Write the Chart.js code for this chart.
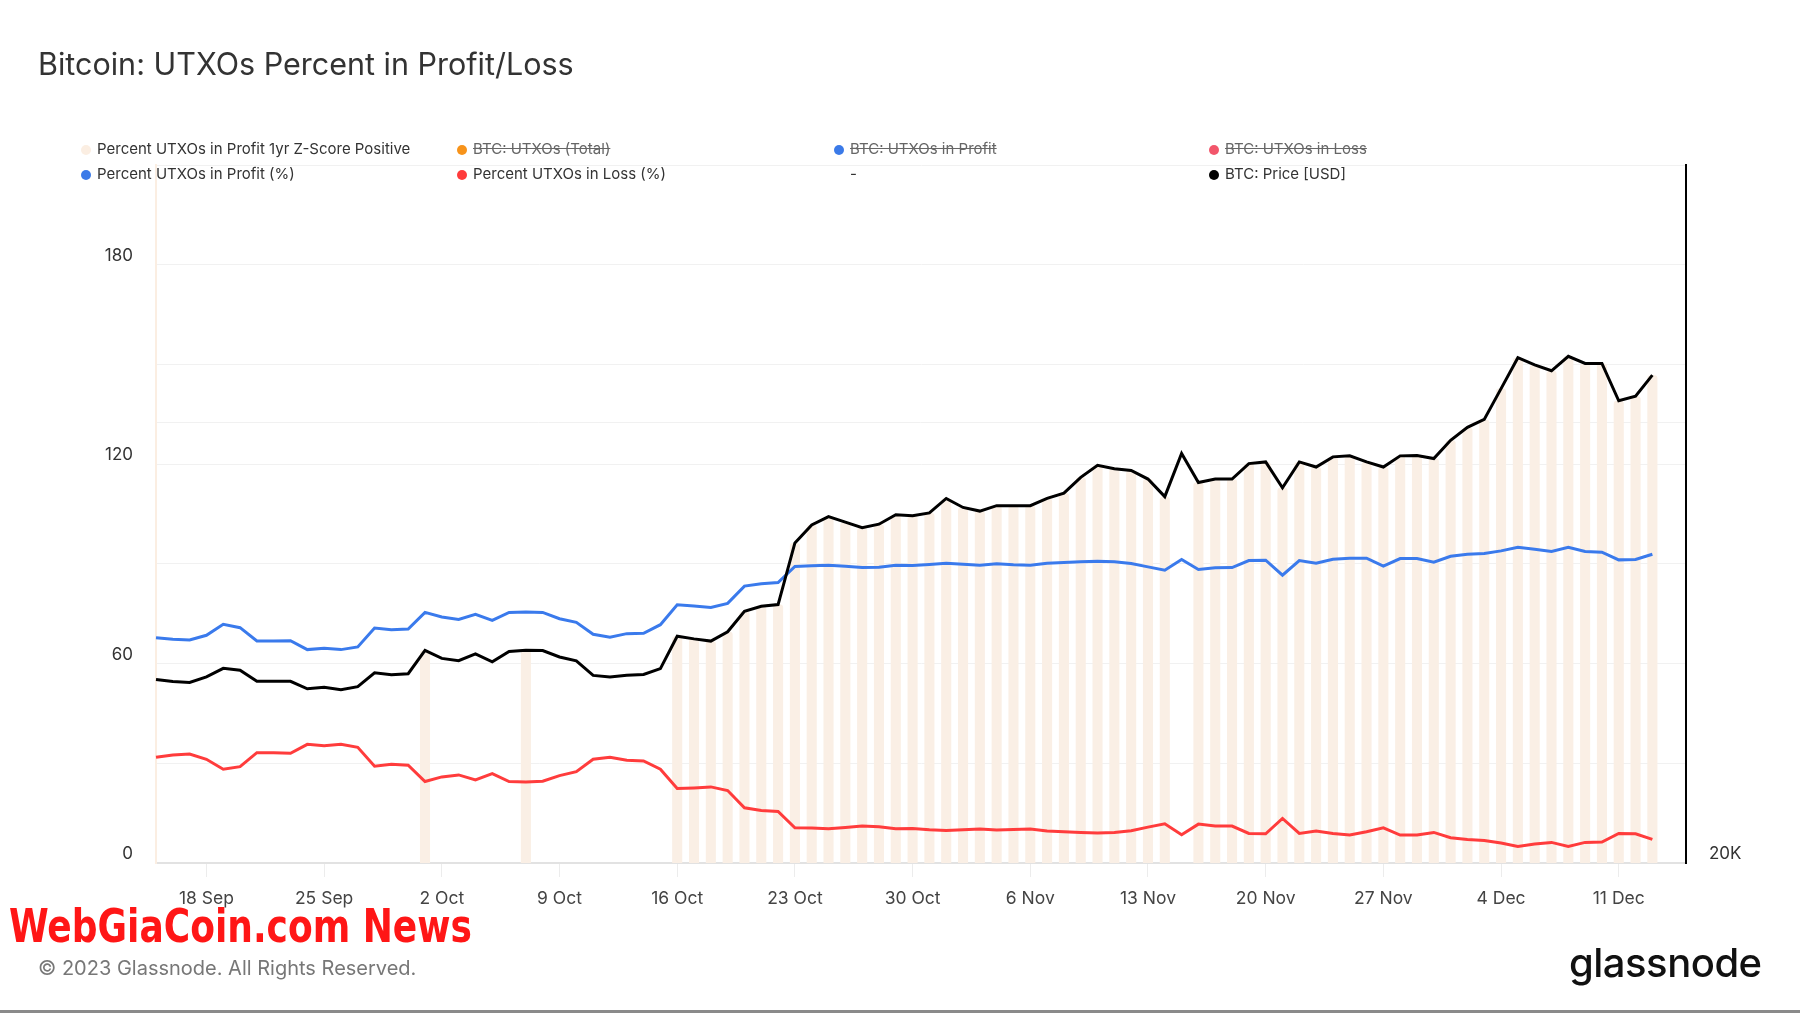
<!DOCTYPE html>
<html>
<head>
<meta charset="utf-8">
<script src="https://cdn.jsdelivr.net/npm/chart.js@4.4.0/dist/chart.umd.min.js"></script>
<style>
  body { margin: 0; background: #fff; font-family: Inter, "Noto Sans", sans-serif; }
  #page { position: relative; width: 1800px; height: 1013px; overflow: hidden; background: #fff; }
  #wrap { position: absolute; left: 0; top: 0; width: 1800px; height: 1013px; }
  #title { position: absolute; left: 38px; top: 45px; font-size: 30.5px; line-height: 38px; color: #333; }
  .leg { position: absolute; font-size: 15px; line-height: 18px; color: #333; white-space: nowrap; }
  .leg .dot { display: inline-block; width: 10px; height: 10px; border-radius: 50%; margin-right: 6px; vertical-align: -1px; }
  .leg.off { color: #666; text-decoration: line-through; }
  #copy { position: absolute; left: 38px; top: 955px; font-size: 20px; line-height: 26px; color: #777; }
  #mark { position: absolute; left: 9px; top: 900px; font-family: "DejaVu Sans Condensed", "DejaVu Sans"; font-weight: bold;
          font-size: 46px; line-height: 52px; color: #ff1616; transform-origin: 0 0; white-space: nowrap; }
  #logo { position: absolute; left: 1569px; top: 938px; font-size: 40px; line-height: 50px; font-weight: 500; color: #111; letter-spacing: -0.5px; }
  #rule { position: absolute; left: 0; bottom: 0; width: 1800px; height: 3px; background: #8a8a8a; }
</style>
</head>
<body>
<div id="page">
  <div id="wrap"><canvas id="chart"></canvas></div>
  <div id="title">Bitcoin: UTXOs Percent in Profit/Loss</div>
  <div id="legend"></div>
  <div id="mark">WebGiaCoin.com News</div>
  <div id="copy">© 2023 Glassnode. All Rights Reserved.</div>
  <div id="logo">glassnode</div>
  <div id="rule"></div>
</div>
<script>
// daily points 15 Sep .. 13 Dec, two empty days at the end
const dates = [
  '15 Sep','16 Sep','17 Sep','18 Sep','19 Sep','20 Sep','21 Sep','22 Sep','23 Sep','24 Sep','25 Sep','26 Sep','27 Sep','28 Sep','29 Sep','30 Sep',
  '1 Oct','2 Oct','3 Oct','4 Oct','5 Oct','6 Oct','7 Oct','8 Oct','9 Oct','10 Oct','11 Oct','12 Oct','13 Oct','14 Oct','15 Oct','16 Oct',
  '17 Oct','18 Oct','19 Oct','20 Oct','21 Oct','22 Oct','23 Oct','24 Oct','25 Oct','26 Oct','27 Oct','28 Oct','29 Oct','30 Oct','31 Oct',
  '1 Nov','2 Nov','3 Nov','4 Nov','5 Nov','6 Nov','7 Nov','8 Nov','9 Nov','10 Nov','11 Nov','12 Nov','13 Nov','14 Nov','15 Nov',
  '16 Nov','17 Nov','18 Nov','19 Nov','20 Nov','21 Nov','22 Nov','23 Nov','24 Nov','25 Nov','26 Nov','27 Nov','28 Nov','29 Nov','30 Nov',
  '1 Dec','2 Dec','3 Dec','4 Dec','5 Dec','6 Dec','7 Dec','8 Dec','9 Dec','10 Dec','11 Dec','12 Dec','13 Dec','14 Dec','15 Dec'
];
const tickLabels = ['18 Sep','25 Sep','2 Oct','9 Oct','16 Oct','23 Oct','30 Oct','6 Nov','13 Nov','20 Nov','27 Nov','4 Dec','11 Dec'];

const profitPct = [
  67.8, 67.3, 67.1, 68.5, 71.8, 70.8, 66.8, 66.8, 66.9, 64.2,
  64.6, 64.2, 65.0, 70.7, 70.2, 70.4, 75.4, 74.0, 73.3, 74.8,
  73.0, 75.4, 75.5, 75.4, 73.5, 72.4, 68.8, 67.9, 69.0, 69.1,
  71.7, 77.7, 77.3, 76.9, 78.1, 83.3, 84.0, 84.4, 89.2, 89.4,
  89.6, 89.3, 88.9, 89.0, 89.6, 89.5, 89.8, 90.2, 89.9, 89.6,
  90.0, 89.7, 89.6, 90.2, 90.4, 90.6, 90.8, 90.6, 90.1, 89.1,
  88.1, 91.3, 88.3, 88.8, 88.9, 91.0, 91.1, 86.6, 91.0, 90.2,
  91.4, 91.7, 91.7, 89.3, 91.6, 91.6, 90.5, 92.3, 92.9, 93.1,
  93.9, 95.0, 94.4, 93.7, 95.0, 93.7, 93.5, 91.2, 91.3, 92.9
];
const lossPct = [
  31.8, 32.5, 32.8, 31.2, 28.2, 29.0, 33.2, 33.2, 33.0, 35.7,
  35.3, 35.7, 34.8, 29.1, 29.7, 29.4, 24.5, 25.9, 26.5, 25.0,
  26.9, 24.5, 24.4, 24.6, 26.3, 27.5, 31.2, 31.8, 30.9, 30.7,
  28.2, 22.4, 22.6, 22.9, 21.8, 16.6, 15.8, 15.5, 10.6, 10.5,
  10.3, 10.7, 11.1, 10.9, 10.3, 10.4, 10.0, 9.8, 10.0, 10.2,
  9.9, 10.1, 10.2, 9.6, 9.4, 9.2, 9.0, 9.2, 9.7, 10.8,
  11.8, 8.5, 11.7, 11.1, 11.1, 8.9, 8.8, 13.4, 8.9, 9.6,
  8.9, 8.4, 9.4, 10.6, 8.4, 8.4, 9.2, 7.6, 7.1, 6.8,
  6.0, 5.0, 5.7, 6.2, 5.0, 6.2, 6.3, 8.9, 8.8, 7.1
];
const price = [
  26700, 26610, 26570, 26810, 27170, 27090, 26620, 26620, 26620, 26310,
  26370, 26270, 26400, 26980, 26900, 26940, 27950, 27600, 27500, 27800,
  27450, 27900, 27950, 27940, 27660, 27490, 26870, 26800, 26880, 26910,
  27160, 28580, 28460, 28360, 28780, 29720, 29960, 30040, 33100, 34050,
  34500, 34200, 33900, 34090, 34600, 34550, 34700, 35500, 35000, 34800,
  35100, 35100, 35100, 35500, 35800, 36700, 37400, 37200, 37100, 36600,
  35600, 38100, 36400, 36600, 36600, 37500, 37600, 36100, 37600, 37300,
  37900, 37960, 37600, 37300, 37960, 37980, 37800, 38900, 39700, 40200,
  42200, 44300, 43800, 43400, 44400, 43900, 43900, 41400, 41700, 43100
];
// 1 = profit 1yr z-score positive that day
const zPositive = [
  0,0,0,0,0,0,0,0,0,0, 0,0,0,0,0,0,1,0,0,0, 0,0,1,0,0,0,0,0,0,0,
  0,1,1,1,1,1,1,1,1,1, 1,1,1,1,1,1,1,1,1,1, 1,1,1,1,1,1,1,1,1,1,
  1,0,1,1,1,1,1,1,1,1, 1,1,1,1,1,1,1,1,1,1, 1,1,1,1,1,1,1,1,1,1
];

const legendNames = ['Percent UTXOs in Profit 1yr Z-Score Positive', 'BTC: UTXOs (Total)', 'BTC: UTXOs in Profit', 'BTC: UTXOs in Loss',
  'Percent UTXOs in Profit (%)', 'Percent UTXOs in Loss (%)', '-', 'BTC: Price [USD]'];
const legendColors = ['#fbeee2', '#f7931a', '#3b7ae8', '#f2566b', '#3b7ae8', '#ff3b3b', null, '#000'];
const legendOff = [false, true, true, true, false, false, false, false];

// html legend, 4 columns x 2 rows
const legX = [81, 457, 834, 1209];
const legY = [140, 165];
let html = '';
legendNames.forEach((name, i) => {
  const dot = legendColors[i] ? '<span class="dot" style="background:' + legendColors[i] + '"></span>' : '<span style="display:inline-block;width:16px"></span>';
  html += '<div class="leg' + (legendOff[i] ? ' off' : '') + '" style="left:' + legX[i % 4] + 'px;top:' + legY[Math.floor(i / 4)] + 'px">' + dot + name + '</div>';
});
document.getElementById('legend').innerHTML = html;

// squeeze the watermark to its width
const mark = document.getElementById('mark');
mark.style.transform = 'scaleX(' + (463 / mark.scrollWidth) + ')';

const zBars = price.map((p, i) => zPositive[i] ? p : null);

const BLUE = 'rgb(58,122,236)';
const RED = 'rgb(255,60,60)';

new Chart(document.getElementById('chart'), {
  type: 'bar',
  data: {
    labels: dates,
    datasets: [
      { type: 'line', label: 'BTC: Price [USD]', data: price, yAxisID: 'y2', borderColor: '#000', borderWidth: 3, pointRadius: 0, order: 0 },
      { type: 'line', label: 'Percent UTXOs in Profit (%)', data: profitPct, yAxisID: 'y', borderColor: BLUE, borderWidth: 3, pointRadius: 0, order: 1 },
      { type: 'line', label: 'Percent UTXOs in Loss (%)', data: lossPct, yAxisID: 'y', borderColor: RED, borderWidth: 3, pointRadius: 0, order: 2 },
      { type: 'bar', label: 'Percent UTXOs in Profit 1yr Z-Score Positive', data: zBars, yAxisID: 'y2', backgroundColor: '#faefe5',
        barPercentage: 0.6, categoryPercentage: 1, borderRadius: 3, borderSkipped: 'start', order: 10 }
    ]
  },
  options: {
    responsive: true,
    maintainAspectRatio: false,
    animation: false,
    layout: { padding: { top: 165, left: 0, right: 0, bottom: 0 } },
    plugins: { legend: { display: false }, tooltip: { enabled: false } },
    scales: {
      x: {
        offset: false,
        grid: { offset: false, drawOnChartArea: false, drawTicks: true, tickLength: 14, color: '#ececec' },
        border: { color: '#e2e2e2', width: 2 },
        ticks: { autoSkip: false, maxRotation: 0, padding: 11, color: '#444', font: { family: 'Inter', size: 17.5 } },
        afterBuildTicks: (axis) => { axis.ticks = axis.ticks.filter(t => tickLabels.includes(dates[t.value])); },
        afterFit: (axis) => { axis.height = 150; }
      },
      y: {
        position: 'left',
        min: 0, max: 210,
        grid: { color: '#f1f1f1', drawTicks: false },
        border: { color: '#fbeee2', width: 2 },
        ticks: { stepSize: 30, padding: 23, labelOffset: -9, color: '#333', font: { family: 'Inter', size: 17 },
          callback: (v) => v % 60 === 0 ? v : '' },
        afterFit: (axis) => { axis.width = 156; }
      },
      y2: {
        position: 'right',
        type: 'logarithmic',
        min: 20000, max: 60000,
        grid: { color: '#f1f1f1', drawTicks: false },
        border: { color: '#000', width: 2 },
        ticks: { padding: 23, labelOffset: -9, color: '#333', font: { family: 'Inter', size: 17 },
          callback: (v) => v === 20000 ? '20K' : '' },
        afterBuildTicks: (axis) => { axis.ticks = [{ value: 20000 }, { value: 40000 }]; },
        afterFit: (axis) => { axis.width = 114; }
      }
    }
  }
});
</script>
</body>
</html>
